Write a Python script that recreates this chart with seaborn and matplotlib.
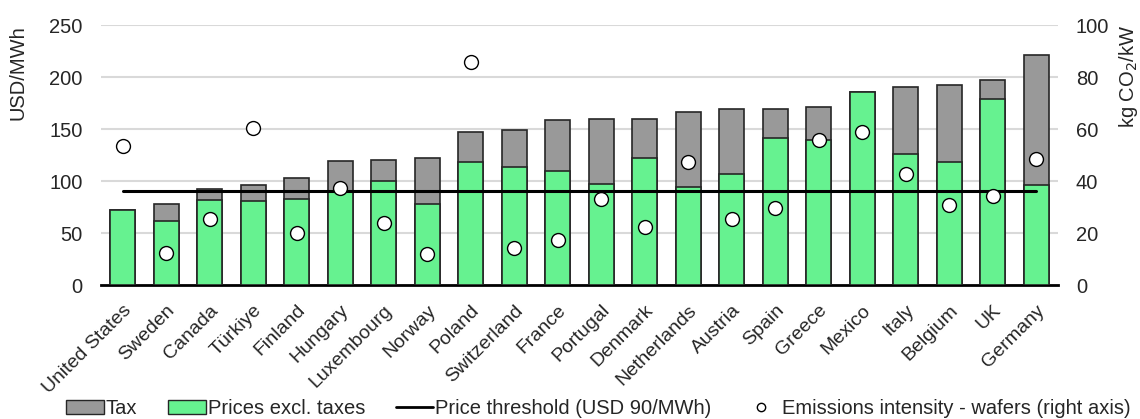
import matplotlib.pyplot as plt
import pandas as pd
import seaborn as sns
from matplotlib.lines import Line2D
from matplotlib.patches import Patch

countries = [
    "United States", "Sweden", "Canada", "Türkiye", "Finland", "Hungary",
    "Luxembourg", "Norway", "Poland", "Switzerland", "France", "Portugal",
    "Denmark", "Netherlands", "Austria", "Spain", "Greece", "Mexico",
    "Italy", "Belgium", "UK", "Germany",
]
# prices excluding taxes (USD/MWh)
prices_excl_tax = [72, 62, 82, 81, 83, 90, 100, 78, 118, 113, 110, 97,
                   122, 94, 107, 141, 139, 186, 126, 118, 179, 96]
# total price incl. tax (USD/MWh)
total_price = [72, 78, 92, 96, 103, 119, 120, 122, 147, 149, 159, 160,
               160, 166, 169, 169, 171, 186, 190, 192, 197, 221]
# emissions intensity of wafers (kg CO2/kW, right axis)
emissions = [53.5, 12.2, 25.4, 60.4, 19.9, 37.4, 24.0, 11.9, 85.8, 14.1, 17.3,
             33.0, 22.4, 47.2, 25.5, 29.5, 55.8, 58.8, 42.8, 30.6, 34.2, 48.3]
threshold = 90

GREEN = "#66f290"
GREY = "#999999"
EDGE = "#262626"

df = pd.DataFrame({
    "country": countries,
    "excl": prices_excl_tax,
    "total": total_price,
    "emis": emissions,
})

sns.set_style("white")
plt.rcParams["font.family"] = ["Liberation Sans", "DejaVu Sans"]
plt.rcParams["font.size"] = 14.5

fig = plt.figure(figsize=(11.4, 4.19), dpi=100)
ax = fig.add_axes([0.0885, 0.3198, 0.8395, 0.6205])

for y in range(50, 251, 50):
    ax.axhline(y, color="#d9d9d9", lw=1.5, zorder=0)

# grey total bar, green part drawn over it so the tax shows on top
sns.barplot(data=df, x="country", y="total", color=GREY, width=0.58,
            edgecolor=EDGE, linewidth=1.2, saturation=1, ax=ax, zorder=2)
sns.barplot(data=df, x="country", y="excl", color=GREEN, width=0.58,
            edgecolor=EDGE, linewidth=1.2, saturation=1, ax=ax, zorder=3)

ax.plot(countries, [threshold] * len(countries), color="black", lw=2.2, zorder=4)

ax.set_xlim(-0.5, len(countries) - 0.5)
ax.set_ylim(0, 250)
ax.set_yticks(range(0, 251, 50))
ax.set_ylabel("USD/MWh", loc="top")
ax.yaxis.set_label_coords(-0.077, 1.0)
ax.set_xlabel("")
for s in ["top", "right", "left"]:
    ax.spines[s].set_visible(False)
ax.spines["bottom"].set_color("black")
ax.spines["bottom"].set_linewidth(2)
ax.tick_params(axis="y", length=0, pad=13)
ax.tick_params(axis="x", length=0, pad=12, labelsize=14)
plt.setp(ax.get_xticklabels(), rotation=45, ha="right", rotation_mode="anchor")

ax2 = ax.twinx()
sns.scatterplot(data=df, x="country", y="emis", color="white", edgecolor="black",
                linewidth=1, s=100, ax=ax2, zorder=5)
ax2.set_ylim(0, 100)
ax2.set_yticks(range(0, 101, 20))
ax2.set_ylabel("kg CO$_2$/kW", loc="top")
ax2.yaxis.set_label_coords(1.062, 1.0)
ax2.set_xlabel("")
for s in ax2.spines.values():
    s.set_visible(False)
ax2.tick_params(axis="y", length=0, pad=13)

handles = [
    Patch(facecolor=GREY, edgecolor=EDGE, label="Tax"),
    Patch(facecolor=GREEN, edgecolor=EDGE, label="Prices excl. taxes"),
    Line2D([], [], color="black", lw=2, label="Price threshold (USD 90/MWh)"),
    Line2D([], [], marker="o", ls="", markerfacecolor="white",
           markeredgecolor="black", markersize=6,
           label="Emissions intensity - wafers (right axis)"),
]
fig.legend(handles=handles, loc="center", bbox_to_anchor=(0.525, 0.025), ncol=4,
           frameon=False, handlelength=1.85, handleheight=0.7, handletextpad=0.1,
           columnspacing=1.55, borderpad=0)

plt.savefig("out.png", dpi=100)
plt.close()
